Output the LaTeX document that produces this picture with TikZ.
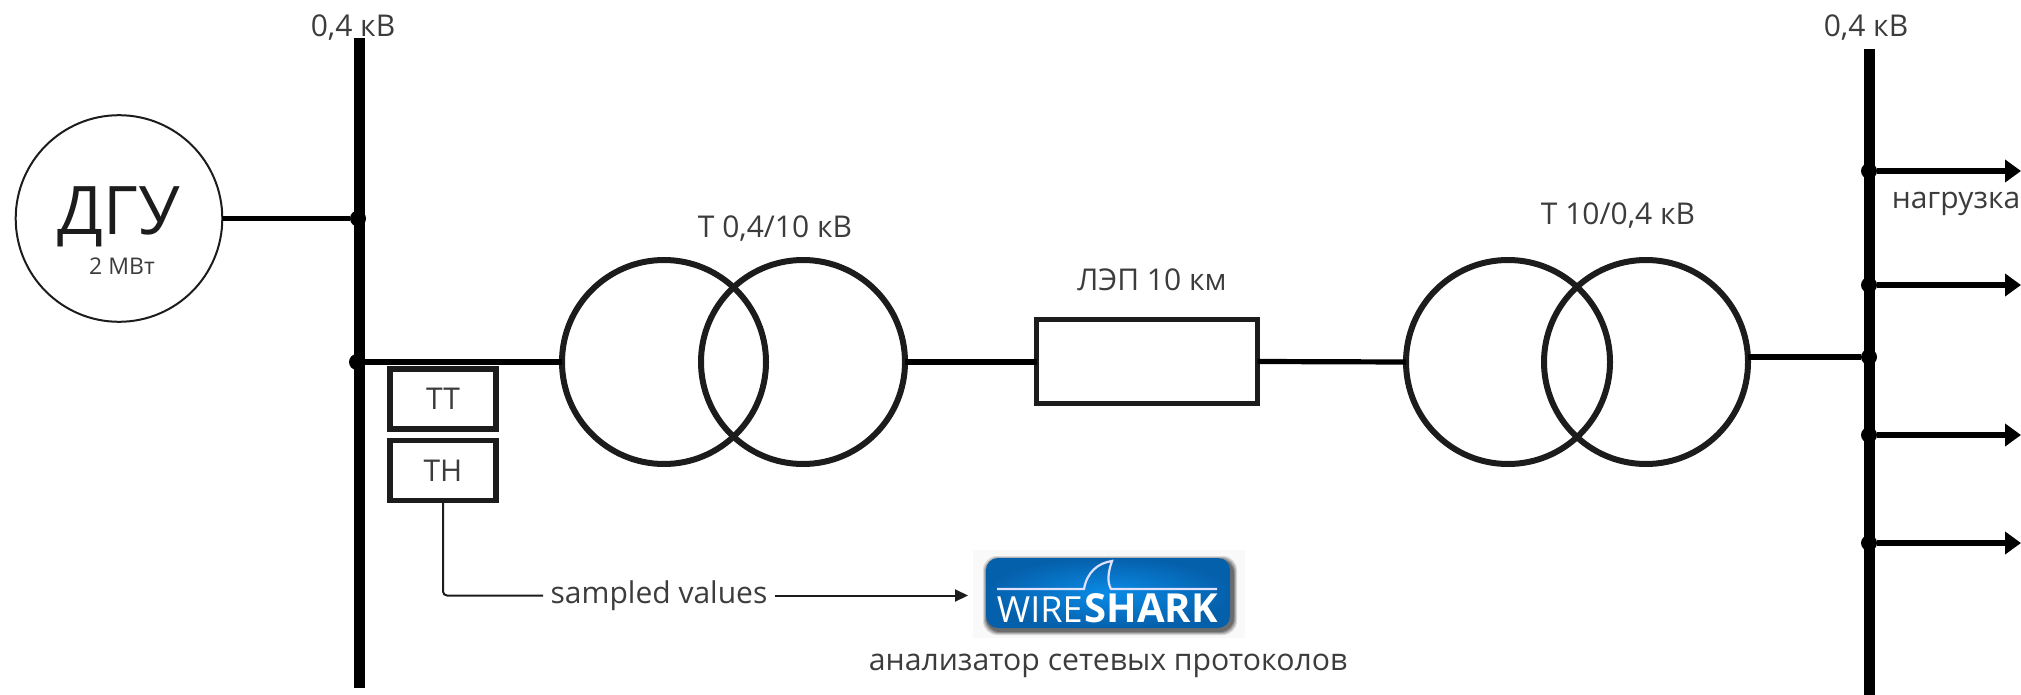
\documentclass[tikz,border=0pt]{standalone}
\usepackage{fontspec}
\setmainfont{Open Sans}
\usetikzlibrary{arrows.meta,shadings,calc}
\definecolor{ink}{HTML}{1C1C1C}
\definecolor{txt}{HTML}{3C3C3C}
\definecolor{logobg}{HTML}{F9F9F9}
\definecolor{blueIn}{HTML}{0A8BE6}
\definecolor{blueOut}{HTML}{0560AC}
\tikzset{
  lbl/.style={text=txt,inner sep=0pt,outer sep=0pt,font=\fontsize{15}{18}\selectfont},
  busline/.style={line width=5.5pt,black},
  wire/.style={line width=2.6pt,black},
  loadarrow/.style={wire,-{Triangle[length=8pt,width=11pt]}},
  jdot/.style={circle,fill=black,inner sep=0pt,outer sep=0pt,minimum size=8pt},
  coil/.style={circle,draw=ink,line width=3pt,inner sep=0pt,outer sep=0pt,minimum size=102pt},
  instr/.style={rectangle,draw=ink,line width=2.9pt,inner sep=0pt,outer sep=0pt,minimum width=53pt,minimum height=30pt,text=txt,font=\fontsize{15}{18}\selectfont},
  thin link/.style={line width=1pt,draw=ink},
}
\begin{document}
\begin{tikzpicture}[x=0.5pt,y=-0.5pt]
\useasboundingbox (0,0) rectangle (2021,695);
% busbars
\coordinate (LT) at (359,38);
\coordinate (LB) at (359,688);
\coordinate (RT) at (1869,49);
\coordinate (RB) at (1869,695);
\draw[busline] (LT) -- (LB);
\draw[busline] (RT) -- (RB);
\node[lbl] (lv1) at (353,28) {0,4 кВ};
\node[lbl] (lv2) at (1866,28) {0,4 кВ};
% generator
\node[circle,draw=ink,line width=1pt,inner sep=0pt,outer sep=0pt,minimum size=103.3pt] (gen) at (119,218.5) {};
\node[text=ink,inner sep=0pt,font=\fontsize{33.5}{40}\selectfont] (dgu) at (119,217) {ДГУ};
\node[lbl,font=\fontsize{11.5}{14}\selectfont] (pw) at (122,266) {2 МВт};
\node[jdot] (jg) at (358,218.5) {};
\draw[wire] (gen.east) -- (jg);
% main line
\node[jdot] (jm) at (357,362) {};
\node[coil] (t1a) at (664,362) {};
\node[coil] (t1b) at (803,362) {};
\node[rectangle,draw=ink,line width=2.6pt,inner sep=0pt,outer sep=0pt,minimum width=110.5pt,minimum height=42pt] (lep) at (1147,361.5) {};
\node[coil] (t2a) at (1508,362) {};
\node[coil] (t2b) at (1646,362) {};
\node[jdot] (jr) at (1869,357) {};
\draw[wire] (jm) -- (t1a.west);
\draw[wire] (t1b.east) -- (t1b.east -| lep.west);
\draw[wire] (lep.east) -- (t2a.west);
\draw[wire] (t2b.east |- jr) -- (jr);
\node[lbl] (t1l) at (775,229) {Т 0,4/10 кВ};
\node[lbl] (lepl) at (1152,280) {ЛЭП 10 км};
\node[lbl] (t2l) at (1618,216) {Т 10/0,4 кВ};
% instruments
\node[instr] (tt) at (443,399) {ТТ};
\node[instr] (th) at (443,470.5) {ТН};
% loads
\foreach \n/\yy in {a/171,b/285,c/435,d/543}{
  \node[jdot] (j\n) at (1869,\yy) {};
  \coordinate (e\n) at (2021,\yy);
  \draw[loadarrow] (j\n) -- (e\n);
}
\node[lbl] (ld) at (1956,204) {нагрузка};
% wireshark logo
\node[rectangle,fill=logobg,inner sep=0pt,outer sep=0pt,minimum width=136pt,minimum height=44pt] (ws) at (1109,594) {};
\foreach \o/\a in {5/0.12,4/0.16,3/0.2,2/0.25}{
  \fill[black,opacity=\a,rounded corners=7pt] (986-\o+2,558-\o+3) rectangle (1230+\o+2,628+\o+2);
}
\shade[inner color=blueIn,outer color=blueOut,rounded corners=6pt] (986,558) rectangle (1230,628);
\draw[white!88!blue,line width=1.1pt] (997,589) -- (1084,589) .. controls (1087,572) and (1098,563) .. (1112,561) .. controls (1108,572) and (1107,582) .. (1111,589) -- (1217,589);
\node[inner sep=0pt,text=white,anchor=base east,font=\fontsize{18}{20}\selectfont] (wire) at (1083,622) {WIRE};
\node[inner sep=0pt,text=white,anchor=base west,font=\fontsize{20}{20}\selectfont\bfseries] (shark) at (1084,622) {SHARK};
\node[lbl,font=\fontsize{15.1}{18}\selectfont] (an) at (1108,666) {анализатор сетевых протоколов};
% sampled values link
\node[lbl,minimum width=116pt,minimum height=15pt] (sv) at (659,595.5) {sampled values};
\draw[thin link,rounded corners=2pt] (th.south) |- (sv.west);
\draw[thin link,-{Triangle[length=6.5pt,width=6pt]},shorten >=2.5pt] (sv.east) -- (ws.west |- sv.east);
\end{tikzpicture}
\end{document}
